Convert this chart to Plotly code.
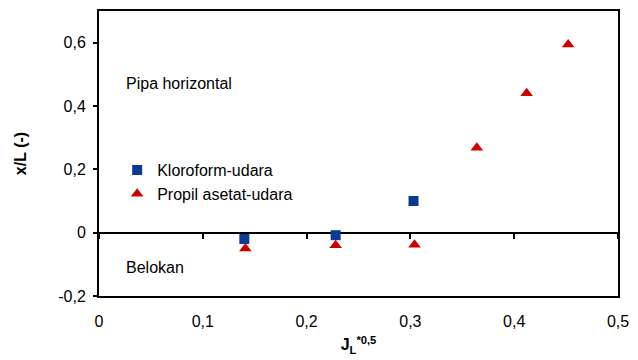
import plotly.graph_objects as go

# Measured points
klo_x = [0.140, 0.228, 0.303]
klo_y = [-0.020, -0.008, 0.100]
pro_x = [0.141, 0.228, 0.304, 0.364, 0.412, 0.452]
pro_y = [-0.050, -0.040, -0.038, 0.268, 0.440, 0.594]

x_ticks = [0, 0.1, 0.2, 0.3, 0.4, 0.5]
x_labels = ["0", "0,1", "0,2", "0,3", "0,4", "0,5"]
y_ticks = [-0.2, 0, 0.2, 0.4, 0.6]
y_labels = ["-0,2", "0", "0,2", "0,4", "0,6"]

FONT = "Liberation Sans, Arial, sans-serif"
XR = [0, 0.5]
YR = [-0.2, 0.7]

fig = go.Figure()
fig.add_trace(go.Scatter(
    x=klo_x, y=klo_y, mode="markers", name="Kloroform-udara",
    legendgroup="a",
    marker=dict(symbol="square", size=10, color="#0a3b94"),
))
fig.add_trace(go.Scatter(
    x=pro_x, y=pro_y, mode="markers", name="Propil asetat-udara",
    legendgroup="b",
    marker=dict(symbol="triangle-up", size=11, color="#cc0000"),
))
# carrier for the tick marks hanging from y = 0
fig.add_trace(go.Scatter(x=[None], y=[None], xaxis="x2", showlegend=False))

fig.update_layout(
    width=638, height=360,
    margin=dict(l=99, r=13, t=9, b=62),
    paper_bgcolor="white", plot_bgcolor="white",
    font=dict(family=FONT, size=16, color="black"),
    showlegend=True,
    legend=dict(
        x=0.035, y=0.40, xanchor="left", yanchor="middle",
        bgcolor="rgba(0,0,0,0)", borderwidth=0,
        font=dict(size=16), itemwidth=30,
        traceorder="grouped", tracegroupgap=0,
    ),
    xaxis=dict(
        range=XR, tickvals=x_ticks, ticktext=x_labels,
        showgrid=False, zeroline=False,
        showline=True, linecolor="black", linewidth=2, mirror=True,
        ticks="outside", ticklen=0, tickcolor="black",
        ticklabelstandoff=10, ticklabeloverflow="allow",
        title=dict(text="<b>J<sub>L</sub><sup>*0,5</sup></b>",
                   font=dict(size=16), standoff=10),
    ),
    xaxis2=dict(
        range=XR, tickvals=x_ticks, overlaying="x", anchor="free",
        position=(0 - YR[0]) / (YR[1] - YR[0]),
        showgrid=False, zeroline=False, showticklabels=False,
        showline=False,
        ticks="outside", ticklen=5, tickwidth=2, tickcolor="black",
    ),
    yaxis=dict(
        range=YR, tickvals=y_ticks, ticktext=y_labels,
        showgrid=False,
        zeroline=True, zerolinecolor="black", zerolinewidth=2,
        showline=True, linecolor="black", linewidth=2, mirror=True,
        ticks="outside", ticklen=4, tickwidth=2, tickcolor="black",
        ticklabelstandoff=4,
        title=dict(text="<b>x/L (-)</b>", font=dict(size=16), standoff=28),
    ),
    annotations=[
        dict(x=0.024, y=0.47, xref="x", yref="y", text="Pipa horizontal",
             showarrow=False, xanchor="left", yanchor="middle",
             font=dict(size=16)),
        dict(x=0.024, y=-0.11, xref="x", yref="y", text="Belokan",
             showarrow=False, xanchor="left", yanchor="middle",
             font=dict(size=16)),
    ],
)

fig.write_html("out.html")
